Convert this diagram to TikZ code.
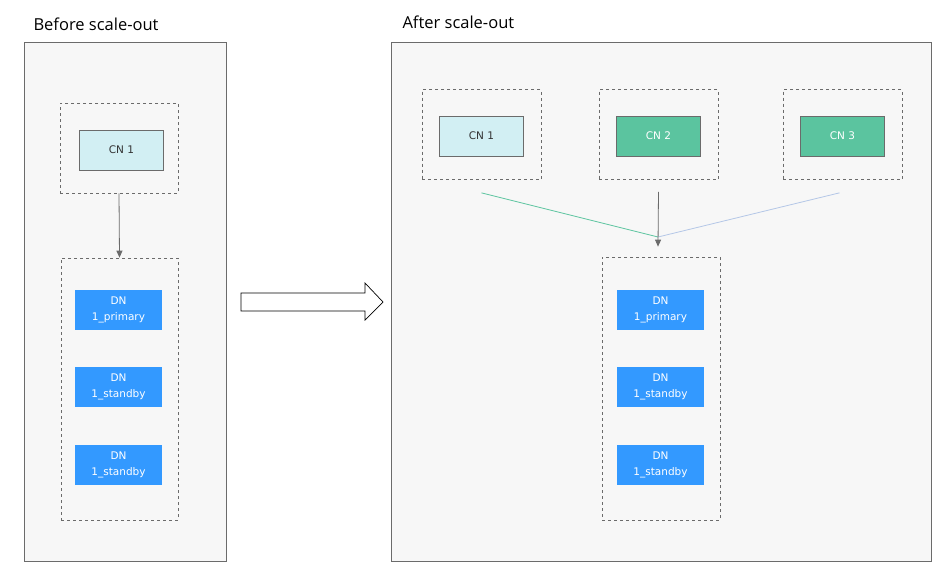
\documentclass[tikz,border=0pt]{standalone}
\usepackage{fontspec}
\setmainfont{DejaVu Sans}
\newfontfamily\titlefont{Open Sans}
\usetikzlibrary{arrows.meta}

\definecolor{panelfill}{HTML}{F7F7F7}
\definecolor{edgegray}{HTML}{6B6B6B}
\definecolor{cnlight}{HTML}{D2EFF3}
\definecolor{cngreen}{HTML}{5BC49F}
\definecolor{dnblue}{HTML}{3399FF}
\definecolor{linkblue}{HTML}{B4C7E7}

\begin{document}
\begin{tikzpicture}[x=1pt,y=-1pt,
	panel/.style={draw=edgegray,fill=panelfill,line width=0.8pt},
	group box/.style={draw=edgegray,dashed,line width=0.7pt,inner sep=0pt},
	title/.style={anchor=base west,font=\titlefont\fontsize{16.5}{20}\selectfont,text=black},
	cn node/.style={draw=edgegray,line width=0.8pt,minimum width=84pt,minimum height=40pt,inner sep=0pt,
		font=\fontsize{10.5}{12}\selectfont},
	old cn/.style={cn node,fill=cnlight,text=black!80},
	new cn/.style={cn node,fill=cngreen,text=white},
	dn node/.style={fill=dnblue,text=white,minimum width=87pt,minimum height=40pt,inner sep=0pt,
		align=center,font=\fontsize{10.5}{16.5}\selectfont,text depth=3pt},
	link/.style={line width=0.8pt},
	gray link/.style={link,-{Triangle[length=7pt,width=6pt]},color=edgegray}
]
	\useasboundingbox (0,0) rectangle (951,571);

	% panels
	\draw[panel] (24,42) rectangle (226,561);
	\draw[panel] (391,42) rectangle (931,561);
	\node[title] (before) at (30,30) {Before scale-out};
	\node[title] (after) at (399,28) {After scale-out};

	% before scale-out
	\node[group box,minimum width=118pt,minimum height=90pt] (lcnbox) at (119,148) {};
	\node[old cn] (lcn1) at (121.5,150) {CN 1};
	\node[group box,minimum width=117pt,minimum height=262pt] (ldnbox) at (119.5,389) {};
	\node[dn node] (ldn1) at (118.5,310) {DN\\1\_primary};
	\node[dn node] (ldn2) at (118.5,387) {DN\\1\_standby};
	\node[dn node] (ldn3) at (118.5,465) {DN\\1\_standby};
	\draw[gray link] (lcnbox.south) -- (ldnbox.north);

	% scale-out arrow
	\draw[line width=0.7pt,fill=white] (241,293) -- (365,293) -- (365,283) -- (383,302)
		-- (365,320) -- (365,311) -- (241,311) -- cycle;

	% after scale-out
	\foreach \i/\x/\c in {1/481.5/old cn,2/658.5/new cn,3/842.5/new cn} {
		\node[group box,minimum width=119pt,minimum height=90pt] (cnbox\i) at (\x,134.5) {};
		\node[\c] (cn\i) at (\x,136) {CN \i};
	}
	\node[group box,minimum width=118pt,minimum height=263pt] (dnbox) at (661,388.5) {};
	\node[dn node] (dn1) at (660.5,310) {DN\\1\_primary};
	\node[dn node] (dn2) at (660.5,387) {DN\\1\_standby};
	\node[dn node] (dn3) at (660.5,465) {DN\\1\_standby};

	\coordinate (merge) at (658,237);
	\draw[link,cngreen] ([yshift=-13pt]cnbox1.south) -- (merge);
	\draw[link,linkblue] ([xshift=-3pt,yshift=-13pt]cnbox3.south) -- (merge);
	\draw[gray link] ([yshift=-12pt]cnbox2.south) -- ([xshift=-3pt,yshift=10pt]dnbox.north);
\end{tikzpicture}
\end{document}
